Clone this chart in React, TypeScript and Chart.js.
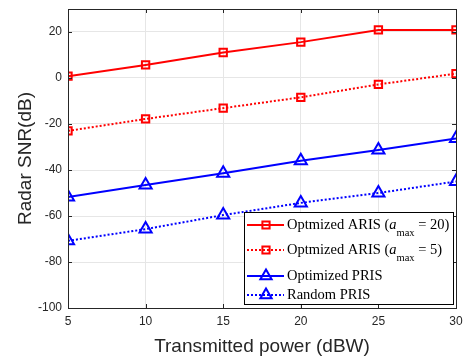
import React, { useEffect, useRef } from 'react';
import { Chart, registerables } from 'chart.js';
Chart.register(...registerables);

const powers = [5, 10, 15, 20, 25, 30];
const arisA20 = [0.8, 5.7, 11.1, 15.6, 20.9, 20.9];
const arisA5 = [-23.0, -17.8, -13.1, -8.4, -2.8, 1.9];
const optPris = [-51.7, -46.5, -41.4, -36.0, -31.3, -26.3];
const randPris = [-70.8, -65.7, -59.6, -54.3, -50.0, -45.0];
const yTickValues = [-100, -80, -60, -40, -20, 0, 20];
const xTickValues = [5, 10, 15, 20, 25, 30];

const legendItems = [
  { main: 'Optmized ARIS (', sub: 'max', tail: ' = 20)', color: '#ff0000', dash: [], marker: 'rect' },
  { main: 'Optmized ARIS (', sub: 'max', tail: ' = 5)', color: '#ff0000', dash: [2, 2], marker: 'rect' },
  { main: 'Optimized PRIS', sub: '', tail: '', color: '#0000ff', dash: [], marker: 'triangle' },
  { main: 'Random PRIS', sub: '', tail: '', color: '#0000ff', dash: [2, 2], marker: 'triangle' },
];

const AXIS = '#262626';
const SERIF = '"Liberation Serif", "Times New Roman", serif';
const SANS = '"Liberation Sans", Arial, sans-serif';

function drawMarker(ctx: CanvasRenderingContext2D, kind: string, x: number, y: number, color: string) {
  ctx.save();
  ctx.setLineDash([]);
  ctx.strokeStyle = color;
  ctx.lineWidth = 2;
  ctx.beginPath();
  if (kind === 'rect') {
    const s = 3.6;
    ctx.rect(x - s, y - s, 2 * s, 2 * s);
  } else {
    const r = 6.5;
    ctx.moveTo(x, y - r);
    ctx.lineTo(x + r * 0.866, y + r * 0.5);
    ctx.lineTo(x - r * 0.866, y + r * 0.5);
    ctx.closePath();
  }
  ctx.stroke();
  ctx.restore();
}

const boxPlugin = {
  id: 'matlabBox',
  afterDatasetsDraw(chart: any) {
    const { ctx, chartArea: a, scales } = chart;
    ctx.save();
    ctx.strokeStyle = AXIS;
    ctx.lineWidth = 1;
    ctx.setLineDash([]);
    ctx.strokeRect(Math.round(a.left) + 0.5, Math.round(a.top) + 0.5, Math.round(a.right - a.left), Math.round(a.bottom - a.top));
    ctx.beginPath();
    const tl = 4;
    for (const v of yTickValues) {
      const y = Math.round(scales.y.getPixelForValue(v)) + 0.5;
      ctx.moveTo(a.left, y); ctx.lineTo(a.left + tl, y);
      ctx.moveTo(a.right, y); ctx.lineTo(a.right - tl, y);
    }
    for (const v of xTickValues) {
      const x = Math.round(scales.x.getPixelForValue(v)) + 0.5;
      ctx.moveTo(x, a.bottom); ctx.lineTo(x, a.bottom - tl);
      ctx.moveTo(x, a.top); ctx.lineTo(x, a.top + tl);
    }
    ctx.stroke();

    const lx = 244, ly = 212, lw = 209, lh = 92;
    ctx.fillStyle = '#ffffff';
    ctx.fillRect(lx, ly, lw, lh);
    ctx.strokeStyle = '#000000';
    ctx.lineWidth = 1;
    ctx.strokeRect(lx + 0.5, ly + 0.5, lw, lh);
    const rowsY = [225, 250, 276, 295];
    legendItems.forEach((it, i) => {
      const y = rowsY[i];
      ctx.save();
      ctx.strokeStyle = it.color;
      ctx.lineWidth = 2;
      ctx.setLineDash(it.dash);
      ctx.beginPath();
      ctx.moveTo(247, y);
      ctx.lineTo(284, y);
      ctx.stroke();
      ctx.restore();
      drawMarker(ctx, it.marker, 266, y, it.color);
      ctx.fillStyle = '#000000';
      ctx.textBaseline = 'middle';
      ctx.textAlign = 'left';
      let x = 287;
      ctx.font = `14.5px ${SERIF}`;
      ctx.fillText(it.main, x, y);
      x += ctx.measureText(it.main).width;
      if (it.sub) {
        ctx.font = `italic 14.5px ${SERIF}`;
        ctx.fillText('a', x, y);
        x += ctx.measureText('a').width;
        ctx.font = `10.5px ${SERIF}`;
        ctx.fillText(it.sub, x, y + 8);
        x += ctx.measureText(it.sub).width;
        ctx.font = `14.5px ${SERIF}`;
        ctx.fillText(it.tail, x, y);
      }
    });
    ctx.restore();
  },
};

function mkSet(label: string, data: number[], color: string, dashed: boolean, style: string) {
  return {
    label,
    data: data.map((v, i) => ({ x: powers[i], y: v })),
    borderColor: color,
    backgroundColor: color,
    borderWidth: 2,
    borderDash: dashed ? [2, 2] : [],
    pointStyle: style,
    pointRadius: style === 'rect' ? 5.2 : 7,
    pointBorderWidth: 2,
    pointBorderColor: color,
    pointBackgroundColor: 'rgba(0,0,0,0)',
    tension: 0,
    fill: false,
  };
}

export default function App() {
  const ref = useRef<HTMLCanvasElement | null>(null);
  useEffect(() => {
    if (!ref.current) return;
    const chart = new Chart(ref.current, {
      type: 'line',
      data: {
        datasets: [
          mkSet('Optmized ARIS (a_max = 20)', arisA20, '#ff0000', false, 'rect'),
          mkSet('Optmized ARIS (a_max = 5)', arisA5, '#ff0000', true, 'rect'),
          mkSet('Optimized PRIS', optPris, '#0000ff', false, 'triangle'),
          mkSet('Random PRIS', randPris, '#0000ff', true, 'triangle'),
        ] as any,
      },
      options: {
        animation: false,
        responsive: false,
        maintainAspectRatio: false,
        layout: { padding: { left: 0, right: 10, top: 0, bottom: 0 } },
        plugins: { legend: { display: false }, tooltip: { enabled: false } },
        scales: {
          x: {
            type: 'linear',
            min: 5,
            max: 30,
            afterBuildTicks: (s: any) => { s.ticks = xTickValues.map((v) => ({ value: v })); },
            afterFit: (s: any) => { s.height = 50; s.paddingLeft = 0; s.paddingRight = 0; },
            ticks: { color: AXIS, font: { family: SANS, size: 12 }, padding: 6, maxRotation: 0 },
            grid: { color: '#e6e6e6', lineWidth: 1, drawTicks: false },
            border: { display: false },
            title: { display: true, text: 'Transmitted power (dBW)', color: AXIS, font: { family: SANS, size: 19 }, padding: { top: -4, bottom: 0 } },
          },
          y: {
            type: 'linear',
            min: -100,
            max: 30,
            afterBuildTicks: (s: any) => { s.ticks = yTickValues.map((v) => ({ value: v })); },
            afterFit: (s: any) => { s.width = 68; s.paddingTop = 0; s.paddingBottom = 0; },
            ticks: { color: AXIS, font: { family: SANS, size: 12 }, padding: 6 },
            grid: { color: '#e6e6e6', lineWidth: 1, drawTicks: false },
            border: { display: false },
            title: { display: true, text: 'Radar SNR(dB)', color: AXIS, font: { family: SANS, size: 19 }, padding: { top: 14, bottom: 0 } },
          },
        },
      },
      plugins: [boxPlugin],
    });
    return () => chart.destroy();
  }, []);
  return (
    <div style={{ position: 'fixed', left: 0, top: 0, width: 466, height: 358, background: '#fff' }}>
      <canvas ref={ref} width={466} height={358} />
    </div>
  );
}
